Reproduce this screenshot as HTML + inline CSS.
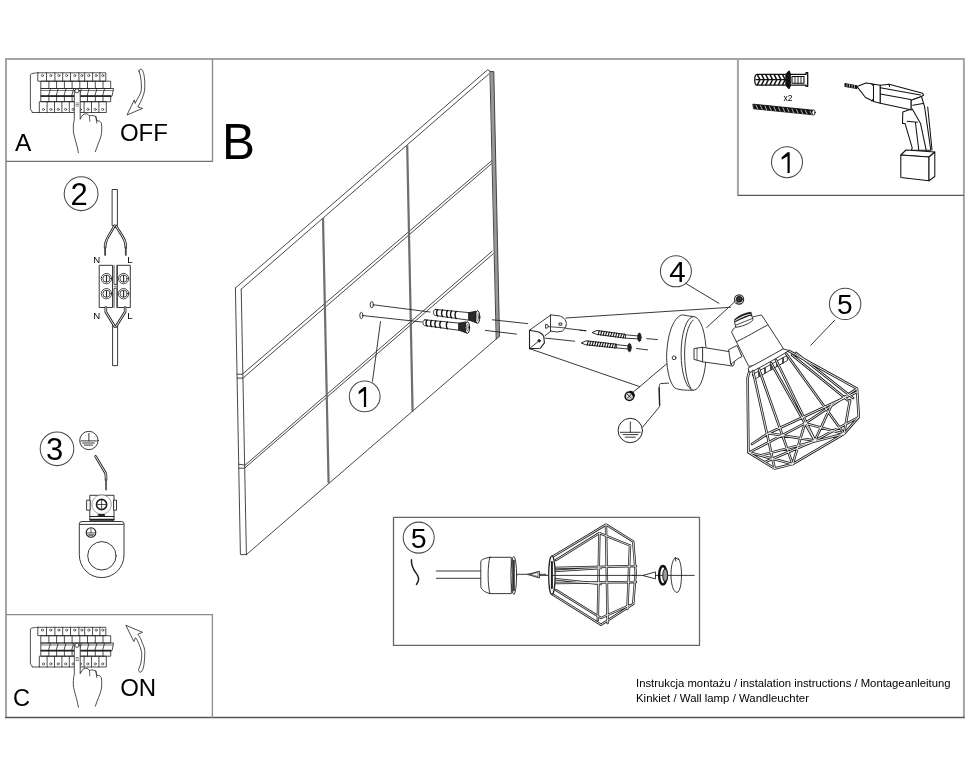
<!DOCTYPE html>
<html><head><meta charset="utf-8">
<style>
html,body{margin:0;padding:0;background:#fff;width:970px;height:776px;overflow:hidden}
svg{display:block;will-change:transform}
text{font-family:"Liberation Sans",sans-serif;fill:#000}
</style></head><body>
<svg width="970" height="776" viewBox="0 0 970 776">
<g fill="none" stroke-linecap="round" stroke-linejoin="round">
<!-- outer frame -->
<g stroke-linecap="butt">
<path d="M5 59H964.9M6 58V718M963.9 58V718M737.9 58V196" stroke="#a5a5a5" stroke-width="2"/>
<path d="M5 717.5H964.9" stroke="#555" stroke-width="1.3"/>
<path d="M6 161.4H213.1" stroke="#727272" stroke-width="1.3"/>
<path d="M212.5 59V162" stroke="#888" stroke-width="1.3"/>
<path d="M6 614.7H213.1M212.4 614V718" stroke="#8a8a8a" stroke-width="1.3"/>
<path d="M737.9 195.4H964" stroke="#5a5a5a" stroke-width="1.3"/>
<path d="M393.5 517.4H699.5V645.4H393.5Z" stroke="#666" stroke-width="1.3"/>
</g>

<!-- WALL -->
<g id="wall" stroke="#333" stroke-width="0.9" fill="none">
<path d="M235.4 288L487.7 69.7L490.5 71.6"/>
<path d="M241.2 289.2L488.9 73.9"/>
<path d="M235.4 288L240.4 554.6L246.4 554.6"/>
<path d="M241.2 289.2L246.4 554.6"/>
<path d="M490.3 71.6L493.8 71.6L499.5 336.5L496.5 338.8Z" fill="#999" stroke="#333" stroke-width="0.9"/>
<path d="M246.4 554.6L496.8 338.5"/>
<path d="M237 374.2L242.2 374.3L491.7 160.7"/>
<path d="M237.1 378.1L242.8 378.2L491.4 163.8"/>
<path d="M238.8 464.2L245 465.2L492.1 251.2"/>
<path d="M238.9 468.2L244.5 468.2L493.2 253.8"/>
<path d="M323 218L328.6 483.3" stroke="#6e6e6e" stroke-width="2.2" stroke-linecap="butt"/>
<path d="M407.2 145.2L412.6 411.8" stroke="#6e6e6e" stroke-width="2.2" stroke-linecap="butt"/>
</g>

<!-- anchors + screws in wall -->
<g stroke="#222" stroke-width="0.9">
<ellipse cx="371.8" cy="304.7" rx="1.6" ry="3.2"/>
<path d="M373.4 304.8L430 312"/>
<ellipse cx="361.4" cy="315.5" rx="1.6" ry="3.2"/>
<path d="M363 315.6L422 322"/>
<path d="M435.3 309.4L469.0 312.6L469.0 320.2L435.3 315.5C432.8 315.5 432.8 309.4 435.3 309.4Z" fill="#fff" stroke="#222" stroke-width="0.9"/>
<path d="M437.6 309.7C436.2 311.2 436.2 314.4 437.6 315.9" stroke="#111" stroke-width="1.4"/>
<path d="M442.6 310.1C441.2 311.6 441.2 315.1 442.6 316.6" stroke="#111" stroke-width="1.4"/>
<path d="M447.6 310.6C446.2 312.1 446.2 315.8 447.6 317.3" stroke="#111" stroke-width="1.4"/>
<path d="M451.6 311.0C450.2 312.5 450.2 316.3 451.6 317.8" stroke="#111" stroke-width="1.4"/>
<path d="M456.1 311.4C454.7 312.9 454.7 316.9 456.1 318.4" stroke="#111" stroke-width="1.4"/>
<path d="M469.0 312.6L476.0 311.2L477.0 323L469.0 320.2Z" fill="#2a2a2a" stroke="#111" stroke-width="0.8"/>
<ellipse cx="477.6" cy="317.1" rx="2.2" ry="6.3" fill="#fff" stroke="#111" stroke-width="1"/><ellipse cx="477.6" cy="317.1" rx="0.9" ry="3.5" fill="none" stroke="#333" stroke-width="0.7"/>
<path d="M424.8 319.8L459.0 323.1L459.0 330.3L424.8 325.6C422.3 325.6 422.3 319.8 424.8 319.8Z" fill="#fff" stroke="#222" stroke-width="0.9"/>
<path d="M427.1 320.1C425.7 321.6 425.7 324.5 427.1 326.0" stroke="#111" stroke-width="1.4"/>
<path d="M431.6 320.5C430.2 322.0 430.2 325.1 431.6 326.6" stroke="#111" stroke-width="1.4"/>
<path d="M435.9 320.9C434.5 322.4 434.5 325.7 435.9 327.2" stroke="#111" stroke-width="1.4"/>
<path d="M440.8 321.4C439.4 322.9 439.4 326.3 440.8 327.8" stroke="#111" stroke-width="1.4"/>
<path d="M447.4 322.0C446.0 323.5 446.0 327.2 447.4 328.7" stroke="#111" stroke-width="1.4"/>
<path d="M459.0 323.1L466 321.9L467 333.2L459.0 330.3Z" fill="#2a2a2a" stroke="#111" stroke-width="0.8"/>
<ellipse cx="467.4" cy="327.6" rx="2.2" ry="5.8" fill="#fff" stroke="#111" stroke-width="1"/><ellipse cx="467.4" cy="327.6" rx="0.9" ry="3.2" fill="none" stroke="#333" stroke-width="0.7"/>
<path d="M380.5 321.5L372.5 381.3"/>
<circle cx="364.7" cy="396.4" r="15.4" stroke="#4a4a4a" stroke-width="1.05"/>
</g>


<!-- bracket and lamp -->
<g stroke="#222" stroke-width="0.9">
<!-- dashed guide lines -->
<path d="M492.4 319.8L527.6 323.6M485.3 330.4L516.5 334.1"/>
<path d="M566.7 328.5L586 330.7M646.8 338.6L657.5 339.6"/>
<path d="M545.2 338.1L574.6 341.2M636.5 348.5L647.6 349.9"/>
<path d="M580 330.3L585.8 330.8"/>
<!-- long lines -->
<path d="M565.8 318L730.4 307.3"/>
<path d="M529.5 348.6L639.8 386.7L633.5 391.7M639.8 386.7L653.3 375L674.1 357.8"/>
<path d="M706.6 327.6L734.5 302"/>
<!-- bracket -->
<path d="M550.9 314.9L558.8 315.8C563 316.5 566.5 320 566.3 323.7C566.2 327 564.5 329.5 562.3 331.1L557.1 332L550.9 331.1Z" fill="#fff"/>
<path d="M550.9 314.9L529.5 330.2M550.9 331.1L544.8 335.9"/>
<path d="M529.5 330.2L538.7 332C541.8 333.5 543.8 335.5 543.9 337.7L544.4 342.9L540.4 348.2L529.5 348.6Z" fill="#fff" stroke-width="1.1"/>
<circle cx="539.1" cy="340.8" r="1.2" fill="#111"/>
<path d="M539.1 340.8L529.5 348.6"/>
<rect x="559.4" y="323" width="2.4" height="2.2"/>
<path d="M546 324.3Q548.3 324.3 548.3 326.3Q548.3 328.3 546 328.3Z" stroke-width="0.9"/><path d="M548.3 326.6L566 328" stroke-width="0.8"/>
<!-- wood screws -->
<path d="M592.4 332.4L597.0 330.5L625.4 334.4L625.4 338.2L597.0 334.4Z" fill="#fff" stroke="#111" stroke-width="0.9"/>
<path d="M599.3 330.7L598.1 334.6M601.8 331.0L600.6 334.9M604.3 331.4L603.1 335.3M606.8 331.7L605.6 335.6M609.3 332.1L608.1 335.9M611.8 332.4L610.6 336.3M614.3 332.8L613.1 336.6M616.8 333.1L615.6 336.9M619.3 333.5L618.1 337.3M621.8 333.8L620.6 337.6M624.3 334.1L623.1 337.9" stroke="#111" stroke-width="1.1"/>
<path d="M625.4 334.8L638.5 336M625.4 338.2L638.5 338.8"/>
<ellipse cx="639.4" cy="337.3" rx="1.7" ry="4.2" fill="#222"/>
<path d="M581.6 342.8L586.0 340.8L616.3 344.2L616.3 348.0L586.0 344.8Z" fill="#fff" stroke="#111" stroke-width="0.9"/>
<path d="M588.3 341.0L587.1 345.0M590.8 341.2L589.6 345.2M593.3 341.5L592.1 345.5M595.8 341.8L594.6 345.8M598.3 342.1L597.1 346.0M600.8 342.4L599.6 346.3M603.3 342.7L602.1 346.5M605.8 342.9L604.6 346.8M608.3 343.2L607.1 347.1M610.8 343.5L609.6 347.3M613.3 343.8L612.1 347.6M615.8 344.1L614.6 347.9" stroke="#111" stroke-width="1.1"/>
<path d="M616.3 344.6L628.6 346M616.3 347.9L628.6 349"/>
<ellipse cx="629.5" cy="347.6" rx="1.7" ry="4.2" fill="#222"/>
<!-- canopy -->
<path d="M693.6 316.6C688 316 684 315 681.7 314.9C673 318 667 335 666.6 357.2C667 372 670 383 674.7 387.9C679 390 684 390.3 693.6 390.2" fill="#fff"/>
<ellipse cx="693.6" cy="353.4" rx="12.5" ry="36.8" fill="#fff"/>
<path d="M693.3 320C688 324 684.6 338 684.6 354C684.6 372 688 385 691 388.5"/>
<circle cx="674.1" cy="357.8" r="1.9"/>
<!-- arm -->
<path d="M702.6 347.3L732.7 352.2L732.7 366L702.6 361.8Z" fill="#fff"/>
<path d="M694.4 348.5L702.6 347.3L702.6 361.8L694.4 359.5Z" fill="#fff"/>
<path d="M697 348.2V359.8" stroke-width="0.7"/>
<ellipse cx="732.7" cy="359" rx="2" ry="7" fill="#fff"/>
<!-- nut & screw -->
<circle cx="739.1" cy="299.5" r="4.6" fill="#fff" stroke-width="1.1"/>
<circle cx="739.3" cy="299.3" r="3" fill="#333" stroke="#111"/>
<circle cx="736" cy="302" r="1.3" fill="#fff" stroke="#111" stroke-width="0.6"/>
<circle cx="629.4" cy="396.2" r="4.3" fill="#ddd" stroke="#111" stroke-width="1.5"/>
<path d="M627.2 394L631.6 398.4M631.6 394L627.2 398.4" stroke-width="0.9"/>
<path d="M630.5 392A4.3 4.3 0 0 1 633.7 395.5" stroke="#111" stroke-width="2.6"/>
<!-- "4" -->
<circle cx="675.9" cy="271.3" r="15.5" stroke="#4a4a4a" stroke-width="1.05"/>
<path d="M685.4 283.2L719 303.4"/>
<!-- wire to ground -->
<path d="M668.6 383.1L660.5 383.6C659.2 384.5 659.2 386.7 659.2 386.7L659.6 406.6L642.5 427.3" stroke-width="0.9"/>
<path d="M659.2 388L659.6 405" stroke-width="1.4"/>
<circle cx="630.3" cy="430.5" r="12.2" stroke-width="1"/>
<path d="M630.3 421.9V432.3M620.4 432.3H640.2M623.1 434.6H638M625.3 437.2H635.3"/>
</g>
<!-- socket -->
<g stroke="#222" stroke-width="0.9" fill="#fff">
<path d="M729 349.5L737 345.5L742 356.6L738.3 358.4L731 364Z"/>
<path d="M731.6 332C731 330 740 322 750 318C756 316 760 315 761.7 315.1L783.2 348.2C783 350 775 356 765 361C757 365 751 366.5 749 366.2Z"/>
<path d="M736.2 341.8C745 338 758 330 767.5 325" fill="none"/>
<path d="M734.5 320.9C735 318 742 313.5 750.7 312.2L753 319.8C752 322 745 326 736.2 327.3Z"/>
<path d="M735 319.5C740 316 746 313.5 751 313M735.5 321.5C741 318.5 747 315.5 751.7 315" fill="none" stroke-width="1.3"/><path d="M736 325C741 323 747 320.5 752.5 318.5" fill="none" stroke-width="0.8"/>
<path d="M748.5 367.8C760 362 772 355 783 348.9L789 350.5C778 357.5 762 366.5 749.5 373Z"/>
<path d="M752.5 374.5L787 355.5L787.5 360.5L755 379Z" fill="#fff"/>
<path d="M759 371.5V376M765 368.2V372.8M771 365V369.5M777 361.6V366.2M783 358.3V363" stroke-width="1.6"/>
</g>
<!-- lamp head -->
<g stroke="#222" stroke-width="0.9">
<circle cx="845.1" cy="303.9" r="15.7" stroke="#4a4a4a" stroke-width="1.05"/>
<path d="M834.8 320.1L810.7 345.3"/>
</g>
<g fill="none" stroke-linejoin="round">
<path d="M749.2 372L747.6 378L748.4 452.4L774.7 468.5 M753 371L774.7 468.5 M759 369L792.6 464.1 M771 363L805 423.3 M786 353.5L844 433.8 M789 351L857 388.7L858.8 417.1L844 433.8L792.6 464.1L774.7 468.5 M796 353L853 398 M776 360L815 440.6 M792 355L850 402 M749.3 452.4L805 423.3L857 388.7 M768.5 433.2L857 392 M752 444L768.5 433.2L814.9 440.6L858.8 417.1 M805 423.3L844 433.8 M805 423.3L792.6 464.1 M805 423.3L814.9 440.6 M749.3 452.4L792.6 464.1 M844 433.8L850 400 M814.9 440.6L832 404 M762 455L844 433.8 M765 462L812 442" stroke="#222" stroke-width="2.6"/>
<path d="M749.2 372L747.6 378L748.4 452.4L774.7 468.5 M753 371L774.7 468.5 M759 369L792.6 464.1 M771 363L805 423.3 M786 353.5L844 433.8 M789 351L857 388.7L858.8 417.1L844 433.8L792.6 464.1L774.7 468.5 M796 353L853 398 M776 360L815 440.6 M792 355L850 402 M749.3 452.4L805 423.3L857 388.7 M768.5 433.2L857 392 M752 444L768.5 433.2L814.9 440.6L858.8 417.1 M805 423.3L844 433.8 M805 423.3L792.6 464.1 M805 423.3L814.9 440.6 M749.3 452.4L792.6 464.1 M844 433.8L850 400 M814.9 440.6L832 404 M762 455L844 433.8 M765 462L812 442" stroke="#fff" stroke-width="0.9"/>
</g>
<!-- tools box -->
<g stroke="#111" stroke-width="0.9">
<path d="M757 74.4H786L789 71.1L790.4 74.4H806V72.7H807.7V86.3H806V85.1H790.4L789 88.4L786 85.1H757C754 85.1 754 74.4 757 74.4Z" fill="#fff" stroke-width="1.3"/>
<path d="M756 79.7H787" stroke-width="1.2"/>
<path d="M757.5 74.9L759.8 79.4M759.8 80L757.5 84.6M761.7 74.9L764.0 79.4M764.0 80L761.7 84.6M765.9 74.9L768.2 79.4M768.2 80L765.9 84.6M770.1 74.9L772.4 79.4M772.4 80L770.1 84.6M774.3 74.9L776.6 79.4M776.6 80L774.3 84.6M778.5 74.9L780.8 79.4M780.8 80L778.5 84.6M782.7 74.9L785.0 79.4M785.0 80L782.7 84.6" stroke-width="1.5"/>
<path d="M786 74.4L789 71.1L790.4 74.4V85.1L789 88.4L786 85.1Z" fill="#111"/>
<path d="M792 76.5H804V83.2H792Z" fill="#fff" stroke-width="1.1"/>
<path d="M795 76.8V83M798 76.8V83M801 76.8V83" stroke-width="0.9"/>
<path d="M753.2 104.2L813 110.2L813 114.8L754 108.8Z" fill="#111"/>
<path d="M756.0 105.2L757.6 108.6 M760.5 105.7L762.1 109.1 M765.0 106.2L766.6 109.6 M769.5 106.7L771.1 110.1 M774.0 107.1L775.6 110.5 M778.5 107.6L780.1 111.0 M783.0 108.1L784.6 111.5 M787.5 108.6L789.1 112.0 M792.0 109.1L793.6 112.5 M796.5 109.6L798.1 113.0 M801.0 110.1L802.6 113.5 M805.5 110.5L807.1 113.9 M810.0 111.0L811.6 114.4 " stroke="#fff" stroke-width="0.7"/>
<ellipse cx="813.5" cy="112.5" rx="1.6" ry="2.6" fill="#fff"/>
</g>
<!-- drill -->
<g stroke="#111" stroke-width="1.05" fill="#fff" stroke-linejoin="round">
<path d="M845 83.5L856.7 85.8L856.7 88.6L845 86.4Z" fill="#111"/>
<path d="M847 83.8V86.6M849.5 84.3V87.1M852 84.8V87.6M854.5 85.3V88.1" stroke="#fff" stroke-width="0.6"/>
<path d="M857 86.6L866 83L873 84L873 101L865.5 97.5Z"/>
<path d="M871.5 83.8C876 87 876 98 871.5 101" />
<path d="M873.5 84.2L880.3 85.2L880.3 103.3L873.5 101.5Z"/>
<path d="M880.3 85.2L889.1 84.3L922.6 93.2L923.6 95L921.5 96.5L911.2 100.2L911.2 110L909.7 109.4L880.3 103.3Z"/>
<path d="M880.3 87.8L920.5 95M880.3 94L910.7 99.6M889.1 84.3L889.5 86.5" fill="none"/>
<path d="M911.2 100.2L921.5 96.5L924.6 106.9L930.8 150.2L911.2 150.2L912.3 148.1L905 123.4L902.5 123.4L902.8 112L909.7 109.4L911.2 110Z"/>
<path d="M912.8 105.3L922.9 103.6M907.1 121.3L917.4 122.3M915.4 122.3L919 152M912.3 109L920.5 123.4L926.2 150.2M927.7 107L932 150" fill="none"/>
<path d="M900.8 155L906 150L934.8 152L929 157Z"/>
<path d="M900.8 155L929 157L929 180.7L900.8 177.6Z"/>
<path d="M929 157L934.8 152L934.8 176.5L929 180.7Z"/>
</g>
<circle cx="787" cy="162.2" r="15.5" fill="none" stroke="#4a4a4a" stroke-width="1.05"/>
<!-- section 2 wiring -->
<g stroke="#222" stroke-width="0.9">
<circle cx="81.1" cy="193.7" r="16.9" stroke="#4a4a4a" stroke-width="1.05"/>
<path d="M112.5 189.5H117.4V225.6H112.5Z" fill="#fff"/>
<path d="M113 325.5H117.6V365.7H113Z" fill="#fff"/>
<path d="M99.6 265.3H112.5V307.5H99.6ZM117.7 265.3H130.3V307.5H117.7Z" fill="#fff"/>
<path d="M114 265.3V284.5H116.9V265.3M114 307.5V288.2H116.9V307.5" fill="none" stroke-width="0.8"/>
<path d="M114 286.3H117" stroke-width="0.6"/>
</g>
<g fill="none" stroke-linejoin="round">
<path d="M114.5 225.8C112 231 108 236 106.2 241C105.3 243 105.1 245 105.1 247.4M116 225.8C118.5 231 123 236 124.8 241C125.6 243 125.8 245 125.8 247.4M105.8 307.5V312L114.7 326.5M125.1 307.5V312L116 326.5" stroke="#222" stroke-width="2.6"/>
<path d="M114.5 225.8C112 231 108 236 106.2 241C105.3 243 105.1 245 105.1 247.4M116 225.8C118.5 231 123 236 124.8 241C125.6 243 125.8 245 125.8 247.4M105.8 307.5V312L114.7 326.5M125.1 307.5V312L116 326.5" stroke="#fff" stroke-width="0.9"/>
<path d="M105.1 247.4V254.9M125.8 247.4V254.9" stroke="#444" stroke-width="1.8"/>
</g>
<g stroke="#222" stroke-width="0.8" fill="#fff">
<circle cx="106.5" cy="278.6" r="5.2"/><circle cx="123.6" cy="278.6" r="5.2"/>
<circle cx="106.5" cy="293.7" r="5.2"/><circle cx="123.6" cy="293.7" r="5.2"/>
<circle cx="106.5" cy="278.6" r="3.6"/><circle cx="123.6" cy="278.6" r="3.6"/>
<circle cx="106.5" cy="293.7" r="3.6"/><circle cx="123.6" cy="293.7" r="3.6"/>
<path d="M106.5 275.6V281.6M123.6 275.6V281.6M106.5 290.7V296.7M123.6 290.7V296.7" stroke-width="1.1"/>
</g>
<g font-size="9.6">
<text x="93.2" y="263">N</text><text x="127.3" y="263">L</text>
<text x="93.2" y="319.4">N</text><text x="127.3" y="319.4">L</text>
</g>

<!-- section 3 -->
<g stroke="#222" stroke-width="0.9">
<circle cx="57" cy="448.8" r="16.8" stroke="#4a4a4a" stroke-width="1.05"/>
<circle cx="88.9" cy="440.5" r="9.2"/>
<path d="M88.9 433.4V440.9M80.9 440.9H96.4M82.6 443H94.3M84.3 445.1H92.6"/>
</g>
<g fill="none">
<path d="M95.6 456.4L105.2 472.5C105.8 474 106 475 106 476V480" stroke="#222" stroke-width="2.6"/>
<path d="M95.6 456.4L105.2 472.5C105.8 474 106 475 106 476V480" stroke="#fff" stroke-width="0.9"/>
<path d="M106 479V489.5" stroke="#555" stroke-width="1.8"/>
</g>
<g stroke="#222" stroke-width="0.9" fill="#fff">
<path d="M79.3 523.5Q79.3 521.5 82 521.5H121.5Q124 521.5 124 523.5V555C124 567.5 114 577.6 101.7 577.6C89.3 577.6 79.3 567.5 79.3 555Z"/>
<path d="M80 524.4H123.4" fill="none"/>
<path d="M90.2 495.3H114V520.4H90.2Z"/>
<path d="M87 500.2H90.2V510.2H87ZM114 500.2H116.5V510.2H114Z"/>
<circle cx="101.6" cy="504.5" r="9.6" stroke="#777" stroke-width="0.8" stroke-dasharray="1.5 1"/>
<circle cx="101.6" cy="504.5" r="5.1" stroke-width="1.6"/>
<path d="M97.5 504.5H105.7M101.6 500.4V508.6" stroke-width="0.8"/>
<path d="M90.2 516.5H114M90.2 519.3H114" fill="none" stroke-width="1.2"/>
<rect x="98.5" y="514.5" width="6" height="2" fill="#222"/>
<circle cx="101.9" cy="555.8" r="14.2"/>
<circle cx="91" cy="532.5" r="4.8" stroke-width="1.1"/>
<path d="M91 528.5V532.8M87 532.8H95M88 534.3H94M89 535.6H93" fill="none" stroke-width="0.7"/>
</g>

<!-- section 5 box contents -->
<g stroke="#222" stroke-width="0.9">
<circle cx="418.7" cy="537.6" r="15.5" stroke="#4a4a4a" stroke-width="1.05"/>
<path d="M411.5 559.8C411 564 412 566 414 570C416.5 574 419 576 418.6 579.5C418.3 582 417 583.5 416.5 584.5" stroke-width="1.5"/>
<path d="M436.3 571H481M436.3 578.3H481"/>
<path d="M489.9 557.3H511.3V593.6H489.9C484 592 480.8 589 480.8 586.2V561.4C480.8 560 484 558.3 489.9 557.3Z" fill="#fff"/>
<path d="M489.9 557.3C487.5 565 487.5 585 489.9 593.6" />
<ellipse cx="513.8" cy="575.4" rx="2.8" ry="19" fill="#fff"/>
<path d="M513.5 561V590" stroke="#333" stroke-width="2.6"/>
<path d="M517 574.3H546"/>
<path d="M527.8 574.3L539.4 571.3V577.6Z" fill="#fff"/>
<path d="M530.5 574.3L538 572.5V576.2Z" fill="none" stroke-width="0.6"/>
<path d="M540 575.4H552"/>
</g>
<g fill="none" stroke-linejoin="round">
<path d="M552 557L606 524.6L633.2 541.4L635.7 573L633.2 604.1L601 624.7L552 594 M556 560L599.4 533.1L630 545.5 M556 590L601 618L630 605 M599.4 533.1L597.8 620 M606 524.6L607.6 623 M630 545.5L627.4 609 M554 568L636 566 M554 583L636 582 M553 571L601 568M553 579L601 584" stroke="#222" stroke-width="2.4"/>
<path d="M552 557L606 524.6L633.2 541.4L635.7 573L633.2 604.1L601 624.7L552 594 M556 560L599.4 533.1L630 545.5 M556 590L601 618L630 605 M599.4 533.1L597.8 620 M606 524.6L607.6 623 M630 545.5L627.4 609 M554 568L636 566 M554 583L636 582 M553 571L601 568M553 579L601 584" stroke="#fff" stroke-width="0.8"/>
</g>
<g stroke="#222" stroke-width="0.9" fill="none">
<ellipse cx="551.9" cy="575.2" rx="3.2" ry="19.2" fill="#fff" stroke-width="1.2"/>
<path d="M551.9 562V588" stroke-width="2"/>
<path d="M552 575.4H636"/>
<path d="M632.4 575.4H694.2"/>
<path d="M643.1 575.4L655.5 571.9V578.5Z" fill="#fff"/>
<ellipse cx="662.9" cy="575.2" rx="3.8" ry="9.2" stroke="#111" stroke-width="2.4"/>
<ellipse cx="665.2" cy="575.2" rx="2.4" ry="6" stroke-width="1.1" fill="#999"/>
<path d="M675.3 557.6C672 560 671 568 671 575C671 583 673 592 676.9 592.5C680 592 681.5 584 681.5 575C681.5 566 680 560 678 558.2M675.3 557.6L678.5 559.5M675.3 557.6L675.8 561"/>
</g>

<!-- breakers A and C -->
<g id="brkA" stroke="#222" stroke-width="0.8">
<path d="M38.2 72.8C34 73 31 73.5 30.4 74.5V109.6L32 111V112.5H39.7"/>
<path d="M38.2 72.8H105.8V81.2H38.2Z"/>
<path d="M46.5 72.8V81.2M54.9 72.8V81.2M62.7 72.8V81.2M70.5 72.8V81.2M78.9 72.8V81.2M84.7 72.8V81.2M92.6 72.8V81.2M99.9 72.8V81.2"/>
<path d="M41.2 81.2H110.7V88.5H41.2Z"/>
<path d="M48.9 81.2V88.5M56.6 81.2V88.5M64.4 81.2V88.5M72.1 81.2V88.5M79.8 81.2V88.5M87.5 81.2V88.5M95.3 81.2V88.5M103.0 81.2V88.5"/>
<path d="M41.2 88.5H113.6L112 96.3H41.2Z"/>
<path d="M41.2 90.5H113" stroke-width="0.6"/>
<path d="M41.2 96H110.7" stroke-width="1.6"/>
<path d="M50.4 89L48.4 96M58.1 89L56.1 96M65.9 89L63.9 96M73.6 89L71.6 96M81.3 89L79.3 96M89.0 89L87.0 96M96.8 89L94.8 96M104.5 89L102.5 96"/>
<path d="M41.2 96.3H110.7V101.7H41.2Z"/>
<path d="M48.9 96.3V101.7M56.6 96.3V101.7M64.4 96.3V101.7M72.1 96.3V101.7M79.8 96.3V101.7M87.5 96.3V101.7M95.3 96.3V101.7M103.0 96.3V101.7"/>
<path d="M39.7 101.7H106.3V112.5H39.7Z"/>
<path d="M47.1 101.7V112.5M54.5 101.7V112.5M61.9 101.7V112.5M69.3 101.7V112.5M76.7 101.7V112.5M84.1 101.7V112.5M91.5 101.7V112.5M98.9 101.7V112.5"/>
<circle cx="42.4" cy="75.6" r="1.1" stroke-width="0.6"/>
<circle cx="43.4" cy="109.4" r="1.1" stroke-width="0.6"/>
<circle cx="50.7" cy="75.6" r="1.1" stroke-width="0.6"/>
<circle cx="50.8" cy="109.4" r="1.1" stroke-width="0.6"/>
<circle cx="58.8" cy="75.6" r="1.1" stroke-width="0.6"/>
<circle cx="58.2" cy="109.4" r="1.1" stroke-width="0.6"/>
<circle cx="66.6" cy="75.6" r="1.1" stroke-width="0.6"/>
<circle cx="65.6" cy="109.4" r="1.1" stroke-width="0.6"/>
<circle cx="74.7" cy="75.6" r="1.1" stroke-width="0.6"/>
<circle cx="73.0" cy="109.4" r="1.1" stroke-width="0.6"/>
<circle cx="81.8" cy="75.6" r="1.1" stroke-width="0.6"/>
<circle cx="80.4" cy="109.4" r="1.1" stroke-width="0.6"/>
<circle cx="88.7" cy="75.6" r="1.1" stroke-width="0.6"/>
<circle cx="87.8" cy="109.4" r="1.1" stroke-width="0.6"/>
<circle cx="96.2" cy="75.6" r="1.1" stroke-width="0.6"/>
<circle cx="95.2" cy="109.4" r="1.1" stroke-width="0.6"/>
<circle cx="102.8" cy="75.6" r="1.1" stroke-width="0.6"/>
<circle cx="102.6" cy="109.4" r="1.1" stroke-width="0.6"/>
<path d="M78.4 152.7C77.5 146 75 140 73.6 133C73 128 73.2 124 74.3 119.8V90.5H80.2V119.3C81.5 117 82 115 84 114.2C86 113.4 88 113.6 89.5 116C90.5 115.4 92 115 95.8 116.4L97 121C98.5 120.5 100 121 101.4 123.2C102 128 101.8 133 101 136C100 140 97.5 145 95.3 151.7" fill="#fff"/>
<path d="M89.5 116L89.8 121.3M95.8 116.4L96.8 123.2" stroke-width="0.7"/>
<circle cx="77" cy="90.8" r="2.1" fill="#fff"/>
<path d="M76 103H78.5M76 104.5H78.5M76 106H78.5" stroke-width="0.5"/>
</g>
<use href="#brkA" transform="translate(0,554.5)"/>
<g stroke="#222" stroke-width="0.8" fill="#fff">
<path d="M139 71C138.6 69 142 68.5 142.5 70.5C145 75 145 85 144.6 90C144 95 141 102 137.8 106.9L142.5 108.4L127 115L134.3 99.9L135.1 103.4C137.5 98 141 94 141.3 90C141.8 84 141 76 139 71Z"/>
<path d="M126.2 625.4L142.5 632.3L137.8 634.2C140 637 141.5 640 142.1 642.8C144 646 145 650 144.8 652.8C144.8 657 144.5 661 144 664.4C143.5 668 142.5 671 140.9 672.2C139.5 672.5 138.3 671 138.6 669.5C139.5 667 140.5 665 140.9 662.9C141.5 659 141.8 656 141.7 652.8C141 649 140 646.5 139 644.3C138 641.5 137 639.5 135.5 637.7L134 641.2Z"/>
</g>
</g>

<!-- texts -->
<text x="15" y="150.9" font-size="24.5">A</text>
<text x="119.9" y="140.5" font-size="24">OFF</text>
<text x="221.9" y="158.8" font-size="49.5">B</text>
<text x="12.9" y="706.4" font-size="23.6">C</text>
<text x="120.2" y="696" font-size="24">ON</text>
<text x="70.6" y="204.9" font-size="31">2</text>
<text x="45.9" y="459.9" font-size="31">3</text>
<text x="669.2" y="281.9" font-size="29.5">4</text>
<text x="837" y="313.6" font-size="28">5</text>
<text x="410.8" y="547.6" font-size="28.5">5</text>
<path d="M366.1 387.1V406.9H363.9V390.8L358.7 394.2V391.6L364 387.1Z" fill="#000"/>
<path d="M789.7 152.3V172.9H787.5V156.2L781.7 159.8V157.2L787.5 152.3Z" fill="#000"/>
<text x="783.6" y="100.8" font-size="8.5" fill="#222" textLength="9" lengthAdjust="spacingAndGlyphs">x2</text>
<text x="636" y="687.3" font-size="11.3" textLength="314.5" lengthAdjust="spacingAndGlyphs">Instrukcja montażu / instalation instructions / Montageanleitung</text>
<text x="636" y="701.5" font-size="11.5" textLength="173" lengthAdjust="spacingAndGlyphs">Kinkiet / Wall lamp / Wandleuchter</text>
</svg>
</body></html>
